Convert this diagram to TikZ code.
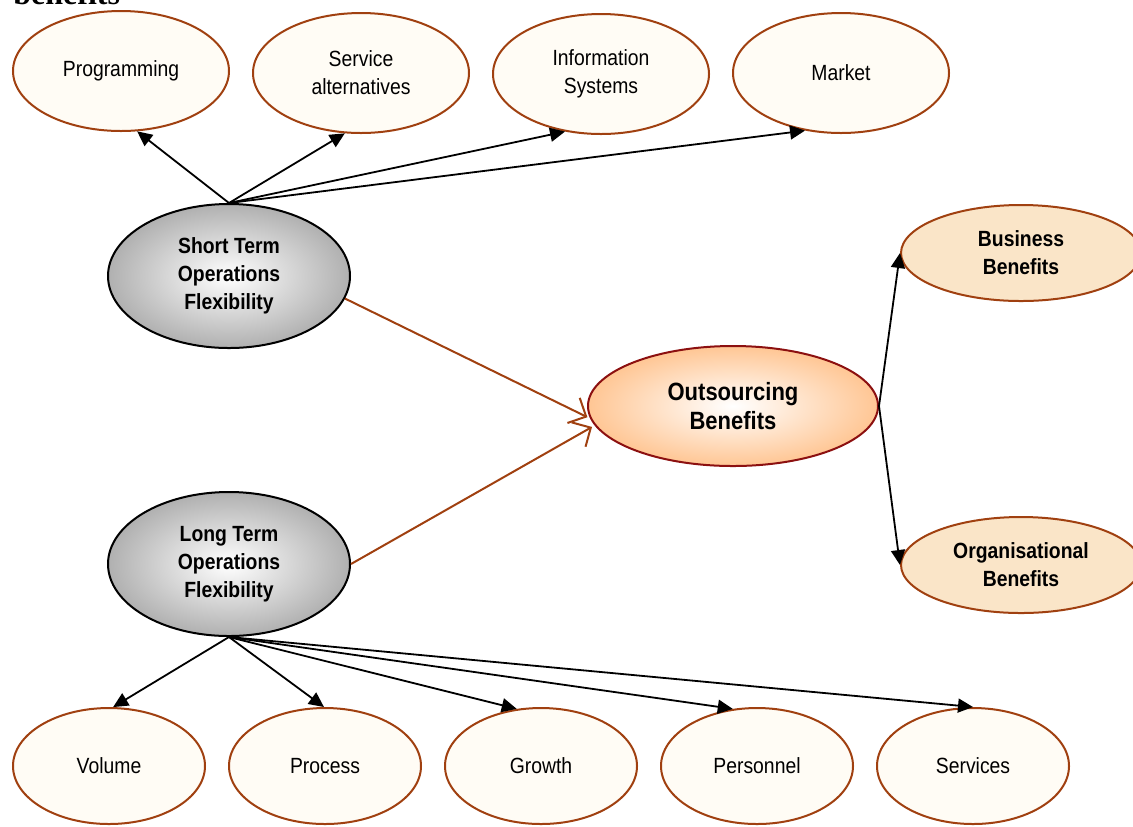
\documentclass[tikz,border=0pt]{standalone}
\usepackage{fontspec}
\setmainfont{Liberation Sans}[FakeStretch=0.88]
\newfontfamily\headfont{Liberation Serif}
\usetikzlibrary{shapes.geometric,arrows.meta}
\definecolor{leafedge}{RGB}{160,64,16}
\definecolor{leaffill}{RGB}{255,252,245}
\definecolor{benfill}{RGB}{250,229,200}
\definecolor{coreedge}{RGB}{140,16,16}
\definecolor{coreouter}{RGB}{255,198,148}
\definecolor{flexouter}{RGB}{176,176,176}
\tikzset {
  oval/.style = {
    ellipse,
    inner sep=0pt,
    line width=1pt,
    align=center,
    font=\fontsize{11}{14}\selectfont
  },
  topleaf/.style = {
    oval,
    draw=leafedge,
    fill=leaffill,
    minimum width=108pt,
    minimum height=60pt
  },
  botleaf/.style = {
    topleaf,
    minimum width=96pt,
    minimum height=58pt
  },
  flexbox/.style = {
    oval,
    draw=black,
    inner color=white,
    outer color=flexouter,
    minimum width=121pt,
    minimum height=72pt,
    font=\bfseries\fontsize{11}{14}\selectfont
  },
  corebox/.style = {
    oval,
    draw=coreedge,
    inner color=white,
    outer color=coreouter,
    minimum width=145pt,
    minimum height=60pt,
    font=\bfseries\fontsize{12.5}{14.5}\selectfont
  },
  benbox/.style = {
    oval,
    draw=leafedge,
    fill=benfill,
    minimum width=120pt,
    minimum height=48pt,
    font=\bfseries\fontsize{11}{14}\selectfont
  },
  tolink/.style = {
    -{Triangle[length=7.5pt,width=7pt]},
    line width=0.9pt,
    draw=black
  },
  brownlink/.style = {
    -{Straight Barb[length=7pt,width=14pt]},
    line width=1pt,
    draw=leafedge,
    shorten >=1.5pt
  }
}

\begin{document}
\begin{tikzpicture}[x=0.5pt, y=-0.5pt]
\useasboundingbox (0,0) rectangle (1133,826);
\clip (0,0) rectangle (1133,826);

% --- Heading (cut off at the top) ---
\node[anchor=base west, inner sep=0pt, font=\headfont\bfseries\fontsize{16}{18}\selectfont]
  (head) at (13,4) {benefits};

% --- Top leaves ---
\node[topleaf] (Prog) at (121,71) {Programming};
\node[topleaf] (Serv) at (361,73) {Service\\alternatives};
\node[topleaf] (Info) at (601,74) {Information\\Systems};
\node[topleaf] (Mkt)  at (841,73) {Market};

% --- Flexibility ---
\node[flexbox] (STF) at (229,276) {Short Term\\Operations\\Flexibility};
\node[flexbox] (LTF) at (229,564) {Long Term\\Operations\\Flexibility};

% --- Benefits ---
\node[corebox] (OB)   at (733,406)  {Outsourcing\\Benefits};
\node[benbox]  (BB)   at (1021,253) {Business\\Benefits};
\node[benbox]  (OrgB) at (1021,565) {Organisational\\Benefits};

% --- Bottom leaves ---
\foreach \name/\x/\txt in {Vol/109/Volume, Proc/325/Process, Grow/541/Growth,
                           Pers/757/Personnel, Svc/973/Services}
  \node[botleaf] (\name) at (\x,766) {\txt};

% --- Links ---
\draw[tolink] (STF.north) -- (Prog.-75);
\draw[tolink] (STF.north) -- (Serv.-105);
\draw[tolink] (STF.north) -- (Info.-122);
\draw[tolink] (STF.north) -- (Mkt.-122);

\draw[tolink] (LTF.south) -- (Vol.86);
\draw[tolink] (LTF.south) -- (Proc.91);
\draw[tolink] (LTF.south) -- (Grow.113);
\draw[tolink] (LTF.south) -- (Pers.113);
\draw[tolink] (LTF.south) -- (Svc.90);

\draw[brownlink] (STF.-11)  -- (OB.185);
\draw[brownlink] (LTF.east) -- (OB.188);

\draw[tolink] (OB.east) -- (BB.west);
\draw[tolink] (OB.east) -- (OrgB.west);

\end{tikzpicture}
\end{document}
